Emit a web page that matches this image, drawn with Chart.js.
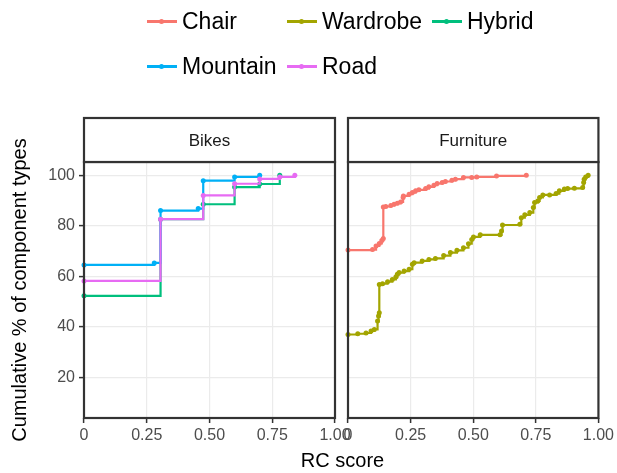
<!DOCTYPE html>
<html>
<head>
<meta charset="utf-8">
<script src="https://cdn.jsdelivr.net/npm/chart.js@4.4.0/dist/chart.umd.min.js"></script>
<style>
  body { margin: 0; background: #fff; font-family: "Liberation Sans", Arial, sans-serif; }
  #wrap { position: relative; width: 617px; height: 473px; overflow: hidden; }
  #wrap canvas { position: absolute; left: 0; top: 0; }
  .legend-item { position: absolute; height: 30px; display: flex; align-items: center; font-size: 23px; color: #000; white-space: nowrap; }
  .legend-key { position: relative; width: 30px; height: 3px; margin-right: 5px; }
  .legend-dot { position: absolute; left: 12px; top: -1px; width: 5px; height: 5px; border-radius: 50%; }
  #xtitle { position: absolute; left: 84px; width: 517px; top: 449px; text-align: center; font-size: 20px; color: #000; }
</style>
</head>
<body>
<div id="wrap">
  <canvas id="bikes" width="617" height="473"></canvas>
  <canvas id="furniture" width="617" height="473"></canvas>
  <div id="legend"></div>
  <div id="xtitle">RC score</div>
</div>
<script>
// Панели и серии
const panelTitles = ['Bikes', 'Furniture'];
const seriesNames = ['Chair', 'Wardrobe', 'Hybrid', 'Mountain', 'Road'];
const seriesColors = ['#F8766D', '#A3A500', '#00BF7D', '#00B0F6', '#E76BF3'];
const xTickValues = [0, 0.25, 0.5, 0.75, 1];
const yTickValues = [20, 40, 60, 80, 100];

// Bikes
const hybridX = [0, 0.305, 0.475, 0.60, 0.70, 0.78];
const hybridY = [52.3, 82.6, 88.5, 95.3, 96.5, 100];
const mountainX = [0, 0.28, 0.305, 0.455, 0.475, 0.60, 0.70];
const mountainY = [64.5, 65.3, 86, 86.8, 97.8, 99.3, 100];
const roadX = [0, 0.305, 0.475, 0.60, 0.70, 0.78, 0.84];
const roadY = [58.2, 82.6, 92, 96.6, 98.5, 99.3, 100];

// Furniture
const chairX = [0, 0.098, 0.112, 0.125, 0.135, 0.141, 0.141, 0.151, 0.171, 0.184,
  0.197, 0.21, 0.22, 0.221, 0.244, 0.257, 0.27, 0.283, 0.31, 0.323,
  0.343, 0.356, 0.376, 0.389, 0.415, 0.429, 0.461, 0.494, 0.514, 0.593, 0.712];
const chairY = [70.4, 70.6, 72, 73, 74.2, 75, 87.4, 87.6, 88, 88.5,
  88.9, 89.4, 91.2, 91.8, 92.5, 93.1, 93.8, 94.2, 94.7, 95.4,
  96, 96.7, 97.1, 97.5, 98, 98.4, 99.1, 99.1, 99.3, 99.7, 100];
const wardrobeX = [0, 0.039, 0.072, 0.092, 0.105, 0.118, 0.122, 0.125, 0.125, 0.138,
  0.158, 0.177, 0.191, 0.197, 0.204, 0.224, 0.244, 0.257, 0.264, 0.296,
  0.323, 0.349, 0.382, 0.409, 0.435, 0.461, 0.481, 0.494, 0.501, 0.528,
  0.607, 0.613, 0.617, 0.686, 0.692, 0.706, 0.726, 0.74, 0.745, 0.758,
  0.765, 0.778, 0.805, 0.831, 0.844, 0.864, 0.877, 0.904, 0.937, 0.941,
  0.943, 0.949, 0.959];
const wardrobeY = [37, 37.3, 37.6, 38.4, 39, 42.3, 44.3, 45.6, 56.8, 57.1,
  57.9, 58.8, 59.7, 60.8, 61.5, 62.1, 62.8, 64.8, 65.4, 66.1,
  66.7, 67.1, 68.2, 69.4, 70.3, 71.3, 72.9, 74.6, 75.6, 76.4,
  76.4, 77.9, 80.3, 80.6, 83.2, 84.3, 85.2, 87.2, 89.2, 89.8,
  91.2, 92.2, 92.2, 92.7, 93.8, 94.5, 94.7, 94.8, 95.1, 97.1,
  98.4, 99.3, 100];

const FONT = '"Liberation Sans", Arial, sans-serif';
const TICK_COLOR = '#4d4d4d';
const FRAME_COLOR = '#333333';

// Легенда
const legendCols = [147, 287, 432];
const legendRows = [21.7, 66.7];
const legendBox = document.getElementById('legend');
seriesNames.forEach(function (name, i) {
  const item = document.createElement('div');
  item.className = 'legend-item';
  item.style.left = legendCols[i % 3] + 'px';
  item.style.top = (legendRows[Math.floor(i / 3)] - 15) + 'px';
  item.innerHTML = '<span class="legend-key" style="background:' + seriesColors[i] + '">' +
    '<span class="legend-dot" style="background:' + seriesColors[i] + '"></span></span>' + name;
  legendBox.appendChild(item);
});

function series(name, xs, ys, order) {
  const color = seriesColors[seriesNames.indexOf(name)];
  return {
    label: name,
    data: xs.map(function (x, i) { return { x: x, y: ys[i] }; }),
    borderColor: color,
    backgroundColor: color,
    borderWidth: 2.2,
    pointRadius: 2.5,
    pointHoverRadius: 2.5,
    pointBorderWidth: 0,
    stepped: 'before',
    order: order,
    clip: 6
  };
}

// Рамка панели и полоса с заголовком
const panelFrame = {
  id: 'panelFrame',
  afterDatasetsDraw(chart, args, opts) {
    const { ctx, chartArea: a } = chart;
    const w = a.right - a.left;
    ctx.save();
    ctx.strokeStyle = FRAME_COLOR;
    ctx.lineWidth = 2.2;
    ctx.strokeRect(a.left, a.top, w, a.bottom - a.top);
    ctx.fillStyle = '#ffffff';
    ctx.fillRect(a.left, a.top - 44, w, 44);
    ctx.strokeRect(a.left, a.top - 44, w, 44);
    ctx.fillStyle = '#1a1a1a';
    ctx.font = '17px ' + FONT;
    ctx.textAlign = 'center';
    ctx.textBaseline = 'middle';
    ctx.fillText(opts.title, a.left + w / 2, a.top - 21);
    ctx.restore();
  }
};

function makePanel(canvasId, title, datasets, padding, showY) {
  return new Chart(document.getElementById(canvasId), {
    type: 'line',
    data: { datasets: datasets },
    plugins: [panelFrame],
    options: {
      responsive: false,
      animation: false,
      events: [],
      layout: { padding: padding },
      plugins: {
        legend: { display: false },
        tooltip: { enabled: false },
        panelFrame: { title: title }
      },
      scales: {
        x: {
          type: 'linear',
          min: 0,
          max: 1,
          afterBuildTicks: function (s) { s.ticks = xTickValues.map(function (v) { return { value: v }; }); },
          afterFit: function (s) { s.height = 55; },
          border: { display: false },
          grid: { color: '#ebebeb', lineWidth: 1.2, tickColor: FRAME_COLOR, tickLength: 5, tickWidth: 1.5 },
          ticks: {
            color: TICK_COLOR,
            font: { family: FONT, size: 16 },
            padding: 3,
            maxRotation: 0,
            callback: function (v) { return v === 0 ? '0' : v.toFixed(2); }
          }
        },
        y: {
          type: 'linear',
          min: 4,
          max: 105.2,
          afterBuildTicks: function (s) { s.ticks = yTickValues.map(function (v) { return { value: v }; }); },
          afterFit: function (s) { s.width = showY ? 84 : 0; },
          border: { display: false },
          grid: { color: '#ebebeb', lineWidth: 1.2, tickColor: FRAME_COLOR, tickLength: 5, tickWidth: 1.5, drawTicks: showY },
          title: {
            display: showY,
            text: 'Cumulative % of component types',
            color: '#000',
            font: { family: FONT, size: 20 },
            padding: { top: 8, bottom: 0 }
          },
          ticks: {
            display: showY,
            color: TICK_COLOR,
            font: { family: FONT, size: 16 },
            padding: 4
          }
        }
      }
    }
  });
}

makePanel('bikes', panelTitles[0], [
  series('Road', roadX, roadY, 0),
  series('Mountain', mountainX, mountainY, 1),
  series('Hybrid', hybridX, hybridY, 2)
], { left: 0, right: 282, top: 162, bottom: 0 }, true);

makePanel('furniture', panelTitles[1], [
  series('Wardrobe', wardrobeX, wardrobeY, 0),
  series('Chair', chairX, chairY, 1)
], { left: 348, right: 16, top: 162, bottom: 0 }, false);
</script>
</body>
</html>
